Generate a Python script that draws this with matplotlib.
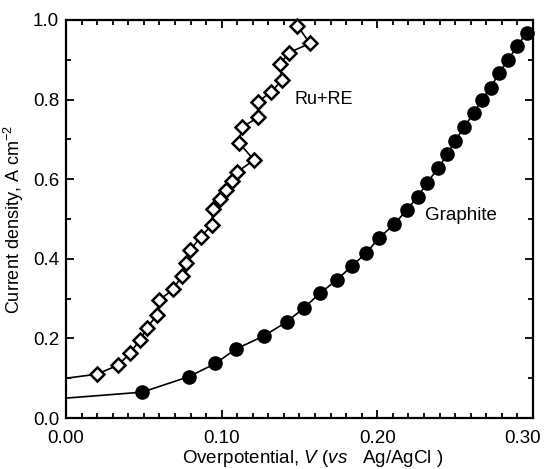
import matplotlib
matplotlib.use("Agg")
import matplotlib.pyplot as plt
from matplotlib.ticker import MultipleLocator
from matplotlib.transforms import ScaledTranslation

plt.rcParams['font.family'] = ['Liberation Sans', 'DejaVu Sans']
plt.rcParams['mathtext.fontset'] = 'custom'
plt.rcParams['mathtext.rm'] = 'Liberation Sans'
plt.rcParams['mathtext.it'] = 'Liberation Sans:italic'

# Ru+RE (open diamonds), starts at the intercept
ru_x = [0.0, 0.0197, 0.0336, 0.0411, 0.0475, 0.0522, 0.0583, 0.0597, 0.0689, 0.0743,
        0.0771, 0.0797, 0.0867, 0.0936, 0.0942, 0.0989, 0.1028, 0.1066, 0.1099,
        0.1208, 0.1111, 0.1131, 0.1235, 0.1235, 0.1317, 0.1388, 0.1375, 0.1433,
        0.1567, 0.1487]
ru_y = [0.10, 0.110, 0.133, 0.163, 0.196, 0.227, 0.259, 0.296, 0.323, 0.357,
        0.390, 0.422, 0.455, 0.485, 0.525, 0.550, 0.573, 0.595, 0.618,
        0.648, 0.692, 0.731, 0.755, 0.795, 0.819, 0.849, 0.889, 0.918,
        0.941, 0.986]

# Graphite (filled circles)
gr_x = [0.0, 0.049, 0.079, 0.096, 0.109, 0.127, 0.142, 0.153, 0.163, 0.174, 0.184,
        0.193, 0.201, 0.211, 0.219, 0.226, 0.232, 0.239, 0.245, 0.250, 0.256,
        0.262, 0.267, 0.273, 0.278, 0.284, 0.290, 0.296]
gr_y = [0.05, 0.065, 0.104, 0.137, 0.173, 0.206, 0.242, 0.277, 0.313, 0.347, 0.383,
        0.415, 0.452, 0.487, 0.523, 0.556, 0.591, 0.627, 0.663, 0.696, 0.732,
        0.766, 0.799, 0.830, 0.866, 0.899, 0.935, 0.968]

x_ticks = [0.0, 0.1, 0.2, 0.3]
x_labels = ["0.00", "0.10", "0.20", "0.30"]
y_ticks = [0.0, 0.2, 0.4, 0.6, 0.8, 1.0]
y_labels = ["0.0", "0.2", "0.4", "0.6", "0.8", "1.0"]

fig = plt.figure(figsize=(5.46, 4.69), dpi=100)
ax = fig.add_axes([0.1209, 0.1087, 0.976 - 0.1209, 0.9574 - 0.1087])

# line first, then markers (the intercept point has no marker)
ax.plot(ru_x, ru_y, color="black", lw=1.2, zorder=2)
ax.plot(ru_x[1:], ru_y[1:], ls="none", marker="D", ms=7, mfc="white",
        mec="black", mew=1.8, zorder=3, clip_on=False)
ax.plot(gr_x, gr_y, color="black", lw=1.2, zorder=2)
ax.plot(gr_x[1:], gr_y[1:], ls="none", marker="o", ms=9.5, mfc="black",
        mec="black", zorder=3, clip_on=False)

ax.text(0.147, 0.799, "Ru+RE", fontsize=13, va="center", ha="left")
ax.text(0.2306, 0.510, "Graphite", fontsize=13.5, va="center", ha="left")

ax.set_xlim(0, 0.30)
ax.set_ylim(0, 1.0)
ax.set_xticks(x_ticks)
ax.set_xticklabels(x_labels)
ax.set_yticks(y_ticks)
ax.set_yticklabels(y_labels)
ax.xaxis.set_minor_locator(MultipleLocator(0.01))
ax.yaxis.set_minor_locator(MultipleLocator(0.1))

ax.tick_params(which="both", direction="in", top=True, right=True, width=1.3,
               labelsize=13.5)
ax.tick_params(which="major", length=6)
ax.tick_params(axis="x", which="major", pad=8.5)
ax.tick_params(axis="y", which="major", pad=5)
ax.tick_params(which="minor", length=3.5)
for s in ax.spines.values():
    s.set_linewidth(1.6)

# last x label sits a bit to the left in the original
last = ax.get_xticklabels()[-1]
last.set_transform(last.get_transform() + ScaledTranslation(-0.1, 0, fig.dpi_scale_trans))

ax.set_xlabel("Overpotential, $V$ ($vs$   Ag/AgCl )", fontsize=13.5, labelpad=1)
ax.xaxis.label.set_x(0.528)
ax.set_ylabel("Current density, A cm$^{-2}$", fontsize=13, labelpad=5)

fig.savefig("out.png", dpi=100)
